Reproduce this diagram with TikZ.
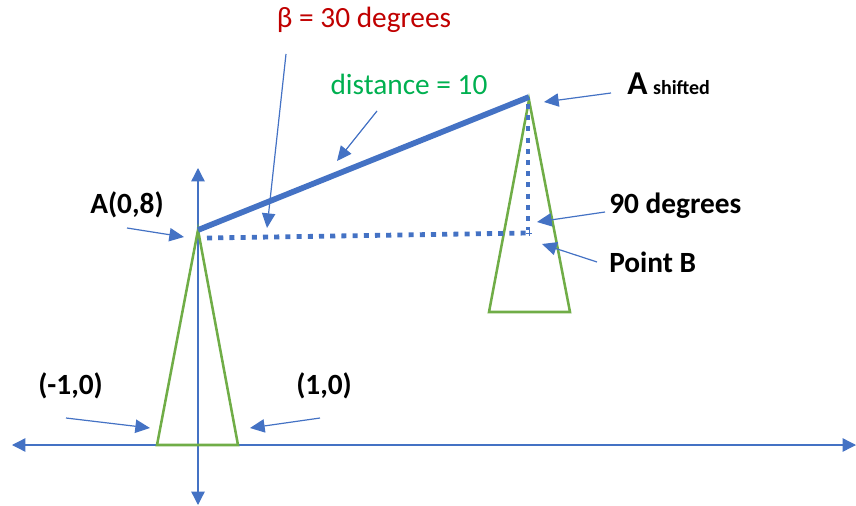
\documentclass[tikz,border=0pt]{standalone}
\usepackage{fontspec}
\setmainfont{Carlito}
\usetikzlibrary{arrows.meta}
\definecolor{mblue}{HTML}{4472C4}
\definecolor{mgreen}{HTML}{70AD47}
\definecolor{mred}{HTML}{C00000}
\definecolor{tgreen}{HTML}{00B050}
\begin{document}
\begin{tikzpicture}[x=0.75pt,y=-0.75pt,
  axis/.style={draw=mblue,line width=1pt,-{Triangle[length=10pt,width=10pt]}},
  callout/.style={draw=mblue,line width=0.9pt,-{Triangle[length=11pt,width=10pt]}},
  tri/.style={draw=mgreen,line width=1.9pt,line join=miter},
  thick line/.style={draw=mblue,line width=4.3pt},
  dotline/.style={draw=mblue,line width=3.6pt,dash pattern=on 3.8pt off 4.6pt},
  lbl/.style={inner sep=0pt,font=\fontsize{22}{26}\selectfont\bfseries,text=black},
  txt/.style={inner sep=0pt,font=\fontsize{22}{26}\selectfont}]
\useasboundingbox (0,0) rectangle (856,506);
% key points
\coordinate (O) at (198,445);
\coordinate (A) at (198,230);
\coordinate (As) at (529,97);
\coordinate (B) at (528,233);
\coordinate (L1) at (157,445);
\coordinate (R1) at (238,445);
\coordinate (L2) at (489,312);
\coordinate (R2) at (570,312);
\coordinate (As2) at (529,100);
% axes
\coordinate (xl) at (12,445);
\coordinate (xr) at (856,445);
\coordinate (yt) at (198,168);
\coordinate (yb) at (198,505);
\draw[axis] (O) -- (xl);
\draw[axis] (O) -- (xr);
\draw[axis] (O) -- (yt);
\draw[axis] (O) -- (yb);
% triangles
\draw[tri] (A) -- (L1) -- (R1) -- cycle;
\draw[tri] (As2) -- (L2) -- (R2) -- cycle;
% dotted right angle
\coordinate (d1) at (207,238);
\coordinate (d2) at (528,104);
\draw[dotline] (d1) -- (B);
\draw[dotline] (d2) -- (528,230);
\draw[mblue,line width=0.6pt] (526,233) -- (532,233) (529,230) -- (529,236);
% thick line
\draw[thick line] (A) -- (As);
% labels
\node[txt,text=mred] (beta) at (364,20) {β = 30 degrees};
\node[txt,text=tgreen] (dist) at (409,84) {distance = 10};
\node[lbl,anchor=base west] (ash) at (627,95) {\fontsize{25}{28}\selectfont A\,\fontsize{15}{18}\selectfont shifted};
\node[lbl,anchor=base west] (a08) at (90,213) {A(0,8)};
\node[lbl,anchor=base west] (ninety) at (609,213) {90 degrees};
\node[lbl,anchor=base west] (pb) at (609,272) {Point B};
\node[lbl,anchor=base west] (m10) at (38,394) {(-1,0)};
\node[lbl,anchor=base west] (p10) at (296,394) {(1,0)};
% callouts
\coordinate (betaT) at (286,54);
\coordinate (betaH) at (267,228);
\coordinate (distT) at (377,111);
\coordinate (distH) at (337,161);
\coordinate (ashT) at (611,93);
\coordinate (ashH) at (544,102);
\coordinate (a08T) at (127,228);
\coordinate (a08H) at (184,237);
\coordinate (ninT) at (605,212);
\coordinate (ninH) at (537,222);
\coordinate (pbT) at (597,262);
\coordinate (pbH) at (542,244);
\coordinate (m10T) at (66,418);
\coordinate (m10H) at (150,428);
\coordinate (p10T) at (320,418);
\coordinate (p10H) at (250,428);
\draw[callout] (betaT) -- (betaH);
\draw[callout] (distT) -- (distH);
\draw[callout] (ashT) -- (ashH);
\draw[callout] (a08T) -- (a08H);
\draw[callout] (ninT) -- (ninH);
\draw[callout] (pbT) -- (pbH);
\draw[callout] (m10T) -- (m10H);
\draw[callout] (p10T) -- (p10H);
\end{tikzpicture}
\end{document}
